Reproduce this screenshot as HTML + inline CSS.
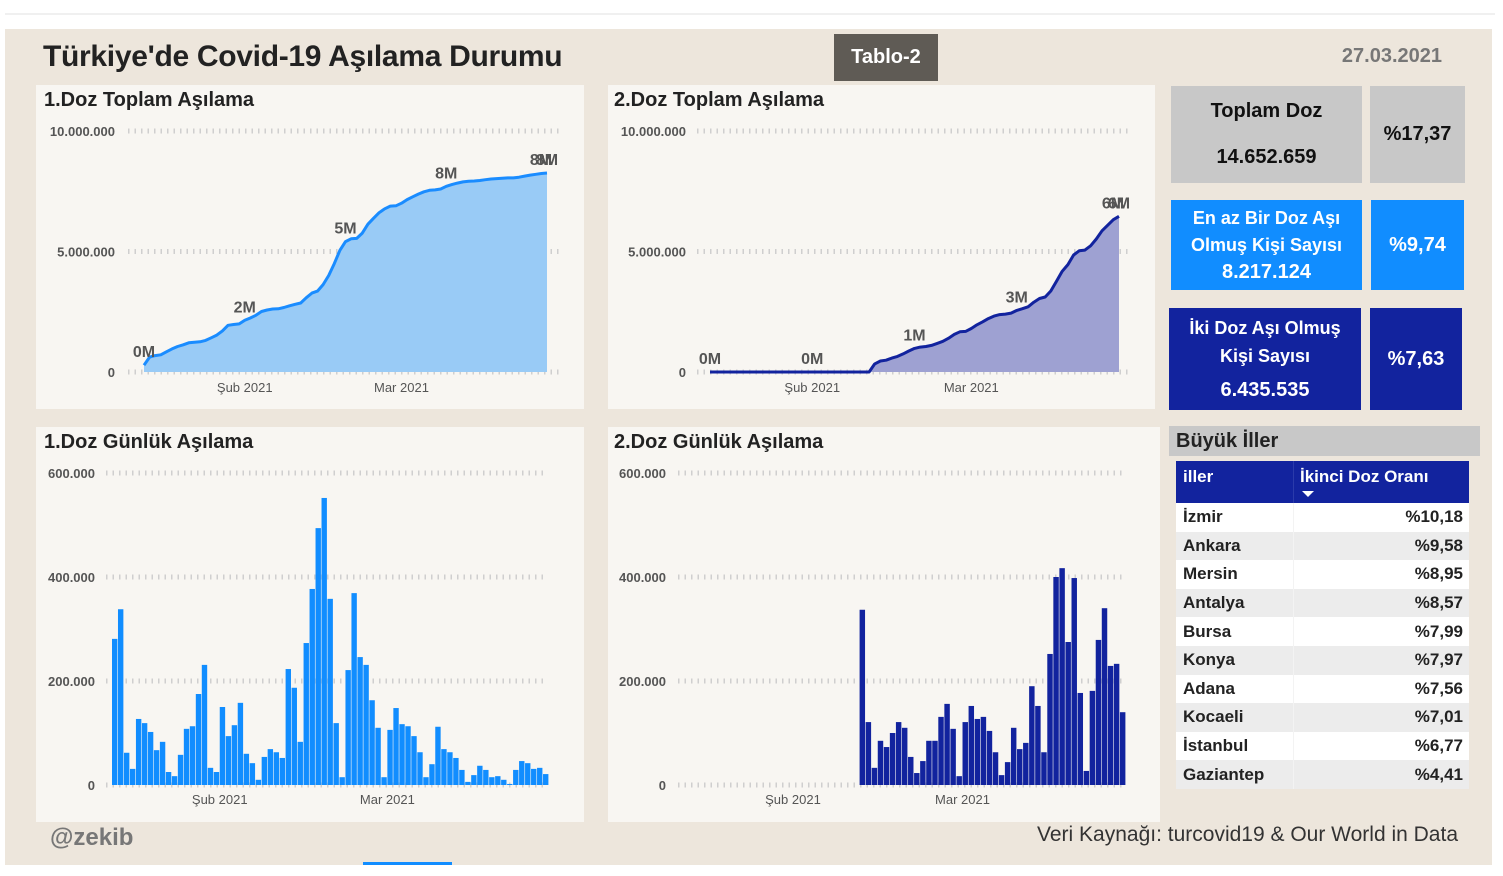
<!DOCTYPE html>
<html><head><meta charset="utf-8">
<style>
body{margin:0;width:1503px;height:876px;background:#fff;position:relative;overflow:hidden;font-family:"Liberation Sans",sans-serif;}
.a{position:absolute;}
.b{font-weight:bold;}
.panel{position:absolute;background:#f8f6f2;}
.card{position:absolute;display:flex;flex-direction:column;align-items:center;justify-content:center;font-weight:bold;text-align:center;}
table{border-collapse:collapse;}
</style></head><body>
<div class="a" style="left:5px;top:13px;width:1490px;height:2px;background:#f0f0f0"></div>
<div class="a" style="left:5px;top:29px;width:1487px;height:836px;background:#ede6dc"></div>
<div class="a b" style="left:43px;top:40px;font-size:30px;color:#222;letter-spacing:-0.3px">Türkiye'de Covid-19 Aşılama Durumu</div>
<div class="a b" style="left:834px;top:34px;width:104px;height:47px;background:#5f5b55;color:#fff;font-size:20px;line-height:47px;text-align:center">Tablo-2</div>
<div class="a b" style="left:1320px;top:45px;width:122px;text-align:right;font-size:20px;color:#777">27.03.2021</div>

<div class="panel" style="left:36px;top:85px;width:548px;height:324px"></div>
<div class="panel" style="left:608px;top:85px;width:547px;height:324px"></div>
<div class="panel" style="left:36px;top:427px;width:548px;height:395px"></div>
<div class="panel" style="left:608px;top:427px;width:552px;height:395px"></div>

<div class="a b" style="left:44px;top:89px;font-size:20px;color:#222">1.Doz Toplam Aşılama</div>
<div class="a b" style="left:614px;top:89px;font-size:20px;color:#222">2.Doz Toplam Aşılama</div>
<div class="a b" style="left:44px;top:431px;font-size:20px;color:#222">1.Doz Günlük Aşılama</div>
<div class="a b" style="left:614px;top:431px;font-size:20px;color:#222">2.Doz Günlük Aşılama</div>

<svg class="a" id="charts" style="left:0;top:0" width="1503" height="876"></svg>

<div class="card" style="left:1171px;top:86px;width:191px;height:97px;background:#c8c8c8;color:#111;font-size:20px;justify-content:space-around;padding:2px 0;box-sizing:border-box"><div>Toplam Doz</div><div>14.652.659</div></div>
<div class="card" style="left:1370px;top:86px;width:95px;height:97px;background:#c8c8c8;color:#111;font-size:20px">%17,37</div>
<div class="card" style="left:1171px;top:200px;width:191px;height:90px;background:#118dff;color:#fff;font-size:18px;line-height:27px"><div>En az Bir Doz Aşı</div><div>Olmuş Kişi Sayısı</div><div style="font-size:20px">8.217.124</div></div>
<div class="card" style="left:1371px;top:200px;width:93px;height:90px;background:#118dff;color:#fff;font-size:20px">%9,74</div>
<div class="card" style="left:1169px;top:308px;width:192px;height:102px;background:#12239e;color:#fff;font-size:18px;line-height:28px"><div>İki Doz Aşı Olmuş</div><div>Kişi Sayısı</div><div style="font-size:20px;margin-top:6px">6.435.535</div></div>
<div class="card" style="left:1370px;top:308px;width:92px;height:102px;background:#12239e;color:#fff;font-size:20px">%7,63</div>

<div class="a b" style="left:1169px;top:426px;width:311px;height:30px;background:#c8c8c8;font-size:20px;line-height:31px;color:#222;padding-left:7px;box-sizing:border-box">Büyük İller</div>
<table class="a" style="left:1176px;top:461px;width:293px;font-weight:bold;font-size:17px;color:#222">
<tr style="background:#12239e;color:#fff;height:42px;vertical-align:top">
<td style="padding:6px 7px;width:103px;border-right:1px solid #2a3aaa">iller</td>
<td style="padding:6px 6px;position:relative">İkinci Doz Oranı<div style="position:absolute;left:8px;top:30px;width:0;height:0;border-left:6px solid transparent;border-right:6px solid transparent;border-top:6px solid #fff"></div></td></tr>
<tbody id="tb"></tbody></table>

<div class="a b" style="left:50px;top:824px;font-size:24px;color:#777">@zekib</div>
<div class="a" style="left:900px;top:823px;width:558px;text-align:right;font-size:21px;color:#333">Veri Kaynağı: turcovid19 &amp; Our World in Data</div>
<div class="a" style="left:363px;top:862px;width:89px;height:3px;background:#118dff"></div>

<script>
const cities=["İzmir","Ankara","Mersin","Antalya","Bursa","Konya","Adana","Kocaeli","İstanbul","Gaziantep"];
const cityRatios=["%10,18","%9,58","%8,95","%8,57","%7,99","%7,97","%7,56","%7,01","%6,77","%4,41"];
const dose1Daily=[281,338,62,31,127,119,102,67,83,25,17,58,108,113,175,231,33,25,150,94,115,158,60,42,10,54,69,63,52,223,187,83,273,377,494,552,358,119,15,221,369,246,231,163,110,15,106,148,117,113,94,63,15,40,112,69,63,52,29,6,19,37,29,15,17,10,2,29,46,42,31,33,21];
const dose2Daily=[0,0,0,0,0,0,0,0,0,0,0,0,0,0,0,0,0,0,0,0,0,0,0,0,0,0,0,0,0,337,121,33,85,73,100,121,110,54,23,46,85,85,131,156,108,17,121,152,127,131,104,63,19,44,110,69,81,190,152,63,252,400,417,275,398,177,27,181,279,340,229,233,140];
const totalTicks=[0,5000000,10000000];
const totalTickLabels=["0","5.000.000","10.000.000"];
const dailyTicks=[0,200000,400000,600000];
const dailyTickLabels=["0","200.000","400.000","600.000"];
const monthLabels=["Şub 2021","Mar 2021"];
const monthDays=[18,46];
const NS="http://www.w3.org/2000/svg";
const svg=document.getElementById('charts');
function mk(tag,attrs,parent){const e=document.createElementNS(NS,tag);for(const k in attrs)e.setAttribute(k,attrs[k]);(parent||svg).appendChild(e);return e;}
function txt(x,y,s,attrs,name){const t=mk('text',Object.assign({x:x,y:y,'font-family':'Liberation Sans, sans-serif'},attrs));t.textContent=s;

return t;}
function axes(cfg,ticks,labels){
 ticks.forEach((v,i)=>{const y=cfg.y(v);
  const l=mk('line',{x1:cfg.gx0,x2:cfg.gx1,y1:y,y2:y,stroke:'#cfcfcf','stroke-width':5,'stroke-dasharray':'1.5 5'});
  
  
  txt(cfg.lx,y+5,labels[i],{'text-anchor':'end','font-size':13,'font-weight':'bold',fill:'#555'},'y-tick-label');});
 monthLabels.forEach((m,i)=>txt(cfg.x(monthDays[i]),cfg.xly,m,{'text-anchor':'middle','font-size':13,fill:'#555'},'x-tick-label'));
}
function cum(a){let s=0;return a.map(v=>(s+=v*1000));}
function totalChart(cfg,daily,fill,stroke,name){
 axes(cfg,totalTicks,totalTickLabels);
 const c=cum(daily);let start=daily.findIndex(v=>v>0);if(cfg.fromZero)start=0;
 let d='',pts=[];
 for(let i=start;i<c.length;i++)pts.push([cfg.x(i),cfg.y(c[i])]);
 d=pts.map((p,i)=>(i?'L':'M')+p[0].toFixed(1)+','+p[1].toFixed(1)).join('');
 const area=mk('path',{d:d+'L'+pts[pts.length-1][0]+','+cfg.y(0)+'L'+pts[0][0]+','+cfg.y(0)+'Z',fill:fill});
 
 
 const line=mk('path',{d:d,fill:'none',stroke:stroke,'stroke-width':3,'stroke-linejoin':'round'});
 
 
 for(let i=0;i<c.length;i+=18){if(i<start&&!cfg.fromZero)continue;
  const idx=Math.min(i,c.length-1);
  txt(cfg.x(idx),cfg.y(c[idx])-8,Math.round(c[idx]/1e6)+'M',{'text-anchor':'middle','font-size':16,'font-weight':'bold',fill:'#555'},'data-label');}
 const L=c.length-1;
 txt(cfg.x(L)-6,cfg.y(c[L])-8,Math.round(c[L]/1e6)+'M',{'text-anchor':'middle','font-size':16,'font-weight':'bold',fill:'#555'},'data-label');
}
function dailyChart(cfg,daily,color,name){
 axes(cfg,dailyTicks,dailyTickLabels);
 const w=cfg.x(1)-cfg.x(0);
 daily.forEach((v,i)=>{if(!v)return;const y=cfg.y(v*1000);
  const r=mk('rect',{x:cfg.x(i),y:y,width:w-0.6,height:cfg.y(0)-y,fill:color});
  
  });
}
function lin(d0,r0,d1,r1){return v=>r0+(v-d0)*(r1-r0)/(d1-d0);}
totalChart({x:lin(0,144,72,547),y:lin(0,372,10000000,131),gx0:128,gx1:560,lx:115,xly:392},dose1Daily,'#99cbf6','#1a8cff','first-dose-total');
totalChart({x:lin(0,710,72,1119),y:lin(0,372,10000000,131),gx0:697,gx1:1132,lx:686,xly:392,fromZero:true},dose2Daily,'#9ea1d2','#12239e','second-dose-total');
dailyChart({x:lin(0,112,73,549),y:lin(0,785,600000,473),gx0:106,gx1:548,lx:95,xly:804},dose1Daily,'#118dff','first-dose-daily');
dailyChart({x:lin(0,684,73,1126),y:lin(0,785,600000,473),gx0:678,gx1:1126,lx:666,xly:804},dose2Daily,'#12239e','second-dose-daily');
const tb=document.getElementById('tb');
cities.forEach((c,i)=>{const tr=document.createElement('tr');
 
 
 tr.style.background=i%2?'#ececec':'#fff';tr.style.height='28.6px';
 tr.innerHTML='<td style="padding:0 7px;border-right:1px solid #f3f3f3">'+c+'</td><td style="padding:0 6px;text-align:right">'+cityRatios[i]+'</td>';
 tb.appendChild(tr);});
</script>
</body></html>
